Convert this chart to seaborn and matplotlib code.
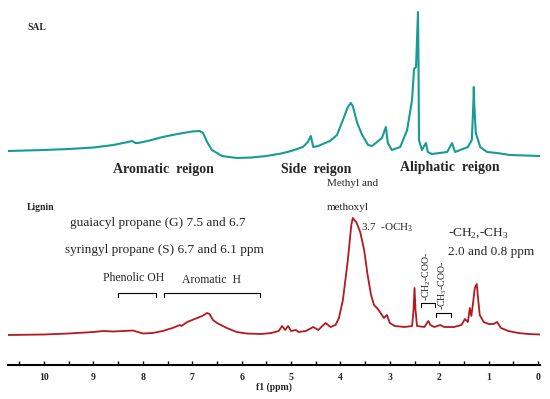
import numpy as np
import pandas as pd
import matplotlib
matplotlib.use("Agg")
import matplotlib.pyplot as plt
import seaborn as sns

# chemical shift (ppm) and relative intensity
sal_ppm = [10.73, 10.0, 9.5, 9.0, 8.6, 8.3, 8.22, 8.15, 8.1, 7.9, 7.6, 7.3, 7.0, 6.85, 6.78,
           6.7, 6.6, 6.4, 6.1, 5.8, 5.5, 5.2, 5.0, 4.76, 4.66, 4.6, 4.55, 4.45, 4.31, 4.21,
           4.07, 3.95, 3.85, 3.79, 3.75, 3.66, 3.56, 3.44, 3.36, 3.26, 3.16, 3.08, 3.04, 2.96,
           2.79, 2.65, 2.55, 2.51, 2.47, 2.45, 2.43, 2.42, 2.41, 2.35, 2.27, 2.23, 2.15, 1.84,
           1.74, 1.68, 1.42, 1.34, 1.31, 1.30, 1.29, 1.26, 1.17, 1.03, 0.83, 0.57, -0.04]
sal_int = [7, 8, 9, 10.5, 13, 16, 17, 15, 15, 17, 21, 24, 26.5, 27, 25,
           16, 8, 2, 0, 0.5, 2, 4.5, 7, 11, 16, 22, 11, 12, 15, 17,
           23, 38, 51, 55, 52, 35, 23, 13, 12, 16, 20, 31, 15, 8,
           11, 28, 58, 89, 91, 118, 146, 98, 18, 8, 15, 6, 4, 6,
           15, 6, 11, 18, 53, 71, 53, 25, 11, 6, 5, 3, 2]

lig_ppm = [10.73, 10.0, 9.5, 9.0, 8.8, 8.6, 8.4, 8.2, 8.1, 8.0, 7.8, 7.6, 7.4, 7.25, 7.22,
           7.1, 6.95, 6.8, 6.7, 6.65, 6.58, 6.5, 6.3, 6.1, 5.9, 5.6, 5.4, 5.25, 5.18, 5.12,
           5.06, 5.0, 4.9, 4.85, 4.7, 4.55, 4.45, 4.3, 4.2, 4.1, 4.03, 3.95, 3.85, 3.78, 3.75,
           3.72, 3.68, 3.6, 3.52, 3.45, 3.38, 3.32, 3.26, 3.2, 3.12, 3.06, 3.0, 2.9, 2.7, 2.55,
           2.52, 2.50, 2.48, 2.45, 2.3, 2.22, 2.18, 2.1, 1.98, 1.9, 1.7, 1.55, 1.48, 1.42, 1.38,
           1.35, 1.32, 1.28, 1.24, 1.22, 1.18, 1.1, 1.0, 0.9, 0.83, 0.75, 0.6, 0.4, 0.2, -0.04]
lig_int = [0, 0.5, 1.5, 3, 4, 3.5, 4, 4.5, 3, 1.5, 2, 4, 7, 10, 9,
           13, 16, 19, 22, 21, 15, 12, 7, 3, 1.5, 1, 2, 4, 9, 5,
           9, 4, 5, 3, 4, 8, 5, 12, 8, 10, 17, 35, 75, 110, 117,
           115, 113, 103, 85, 60, 40, 30, 27, 23, 17, 20, 12, 9, 8, 9,
           25, 47, 25, 9, 8, 14, 10, 8, 10, 8, 8, 10, 16, 13, 27,
           19, 30, 47, 51, 40, 20, 13, 11, 11, 13, 7, 4, 2, 1, 0.5]

sal_offset = 207
lig_offset = 30

sal = pd.DataFrame({"ppm": sal_ppm, "y": np.array(sal_int) + sal_offset})
lig = pd.DataFrame({"ppm": lig_ppm, "y": np.array(lig_int) + lig_offset})

sns.set_style("white")
plt.rcParams["font.family"] = ["Liberation Serif", "DejaVu Serif"]
plt.rcParams["mathtext.fontset"] = "custom"
plt.rcParams["mathtext.rm"] = "Liberation Serif"

fig = plt.figure(figsize=(5.5, 3.99), dpi=100)
ax = fig.add_axes([8 / 550, 34 / 399, 532 / 550, 365 / 399])

sns.lineplot(data=sal, x="ppm", y="y", ax=ax, color="#169b95", lw=1.5, sort=False)
sns.lineplot(data=lig, x="ppm", y="y", ax=ax, color="#b3191f", lw=1.3, sort=False)

ax.set_xlim(10.73, -0.04)
ax.set_ylim(0, 365)
ax.set_yticks([])
ax.set_ylabel("")
for s in ["left", "right", "top"]:
    ax.spines[s].set_visible(False)
ax.spines["bottom"].set_linewidth(1.5)
ax.spines["bottom"].set_color("black")
ax.set_xticks(range(0, 11))
ax.set_xticks(np.arange(0.5, 10.6, 1.0), minor=True)
ax.tick_params(axis="x", which="both", direction="in", length=3, width=1, color="black",
               bottom=True, labelsize=7, pad=6)
for t in ax.get_xticklabels():
    t.set_fontweight("bold")
ax.set_xlabel("f1 (ppm)", fontsize=7, fontweight="bold", labelpad=0)

# labels
ax.text(10.34, 337, "SAL", fontsize=7, fontweight="bold", va="center")
ax.text(10.34, 158, "Lignin", fontsize=7, fontweight="bold", va="center")
ax.text(7.59, 195, "Aromatic  reigon", fontsize=10, fontweight="bold", ha="center", va="center")
ax.text(4.49, 196, "Side  reigon", fontsize=10, fontweight="bold", ha="center", va="center")
ax.text(1.78, 197, "Aliphatic  reigon", fontsize=10, fontweight="bold", ha="center", va="center")

ax.text(9.47, 142, "guaiacyl propane (G) 7.5 and 6.7", fontsize=9.5, va="center")
ax.text(9.57, 115, "syringyl propane (S) 6.7 and 6.1 ppm", fontsize=9.5, va="center")
ax.text(8.81, 87, "Phenolic OH", fontsize=8.5, va="center")
ax.text(7.21, 85, "Aromatic  H", fontsize=8.5, va="center")
ax.text(4.27, 182, "Methyl and", fontsize=8, va="center")
ax.text(4.27, 157, "methoxyl", fontsize=8, va="center")
ax.text(3.58, 137, "3.7  -OCH$_3$", fontsize=8, va="center")
ax.text(1.82, 132, "-CH$_2$,-CH$_3$", fontsize=9.5, va="center")
ax.text(1.82, 113, "2.0 and 0.8 ppm", fontsize=9.5, va="center")
ax.text(2.25, 89, "-CH$_2$-COO-", fontsize=7, rotation=90, ha="center", va="center")
ax.text(1.94, 80, "-CH$_3$-COO-", fontsize=7, rotation=90, ha="center", va="center")

# brackets
for x0, x1, top in [(8.50, 7.73, 72), (7.57, 5.63, 72), (2.37, 2.09, 62), (2.06, 1.76, 52)]:
    ax.plot([x0, x0, x1, x1], [top - 4, top, top, top - 4], color="black", lw=0.8)

fig.savefig("out.png", dpi=100)
